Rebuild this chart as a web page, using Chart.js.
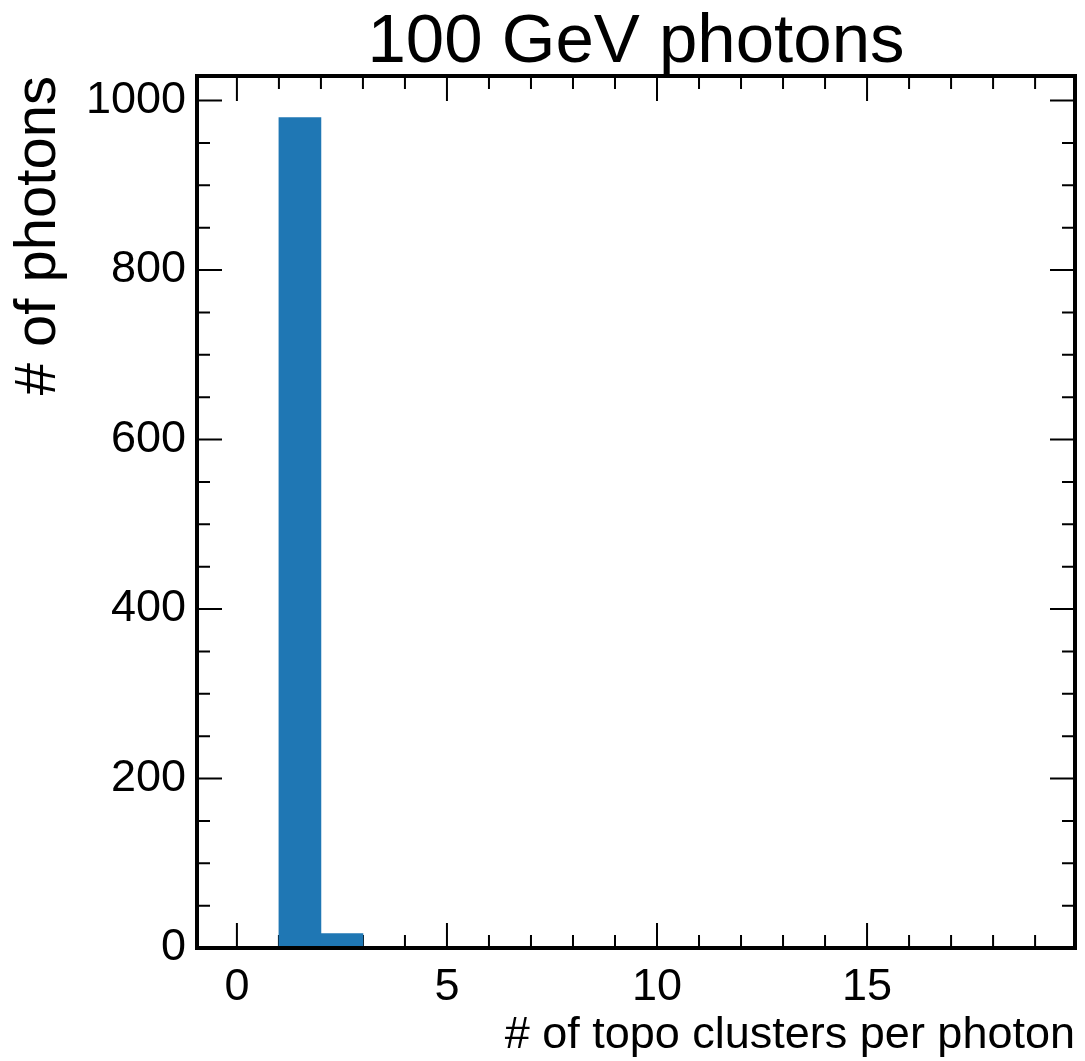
<!DOCTYPE html>
<html>
<head>
<meta charset="utf-8">
<title>100 GeV photons</title>
<script src="https://cdn.jsdelivr.net/npm/chart.js@4.4.1/dist/chart.umd.min.js"></script>
<style>
    html, body { margin: 0; padding: 0; background: #fff; }
    #wrap { width: 1085px; height: 1061px; }
</style>
</head>
<body>
<div id="wrap"><canvas id="histChart"></canvas></div>
<script>
// Histogram: topo clusters per photon, unit-width bins from 0 to 19
const binEdges = [0, 1, 2, 3, 4, 5, 6, 7, 8, 9, 10, 11, 12, 13, 14, 15, 16, 17, 18, 19];
const binCounts = [0, 980, 17, 0, 0, 0, 0, 0, 0, 0, 0, 0, 0, 0, 0, 0, 0, 0, 0];

const xMajorTicks = [0, 5, 10, 15];
const yMajorTicks = [0, 200, 400, 600, 800, 1000];
const xMinorStep = 1;
const yMinorStep = 50;

const xRange = [-0.95, 19.95];
const yRange = [0, 1029];

const chartTitle = '100 GeV photons';
const FONT = "'Liberation Sans', Arial, Helvetica, sans-serif";
const barColor = '#1f77b4';

// bar centres on a linear axis
const histData = binCounts.map((c, i) => ({
    x: (binEdges[i] + binEdges[i + 1]) / 2,
    y: c
}));

/**
 * mplhep-like frame: thick box with inward ticks on all four sides,
 * title centred over the plot area
 */
const frameTicks = {
    id: 'frameTicks',
    beforeDatasetsDraw(chart) {
        const { ctx, chartArea: a, scales: { x, y } } = chart;
        const majorLen = 25, minorLen = 13;
        ctx.save();
        ctx.strokeStyle = '#000';
        ctx.lineWidth = 2;
        ctx.beginPath();

        const xTick = (v, len) => {
            const px = x.getPixelForValue(v);
            ctx.moveTo(px, a.bottom); ctx.lineTo(px, a.bottom - len);
            ctx.moveTo(px, a.top); ctx.lineTo(px, a.top + len);
        };
        const yTick = (v, len) => {
            const py = y.getPixelForValue(v);
            ctx.moveTo(a.left, py); ctx.lineTo(a.left + len, py);
            ctx.moveTo(a.right, py); ctx.lineTo(a.right - len, py);
        };

        for (let v = Math.ceil(xRange[0]); v <= xRange[1]; v += xMinorStep) {
            xTick(v, xMajorTicks.includes(v) ? majorLen : minorLen);
        }
        for (let v = yRange[0]; v <= yRange[1]; v += yMinorStep) {
            yTick(v, yMajorTicks.includes(v) ? majorLen : minorLen);
        }
        ctx.stroke();
        ctx.restore();
    },
    afterDraw(chart) {
        const { ctx, chartArea: a } = chart;
        ctx.save();
        ctx.strokeStyle = '#000';
        ctx.lineWidth = 4;
        ctx.strokeRect(a.left, a.top, a.right - a.left, a.bottom - a.top);

        ctx.fillStyle = '#000';
        ctx.font = '69px ' + FONT;
        ctx.textAlign = 'center';
        ctx.textBaseline = 'alphabetic';
        ctx.fillText(chartTitle, (a.left + a.right) / 2, 62);
        ctx.restore();
    }
};

new Chart(document.getElementById('histChart'), {
    type: 'bar',
    data: {
        datasets: [{
            label: 'photons',
            data: histData,
            backgroundColor: barColor,
            borderWidth: 0,
            barPercentage: 1,
            categoryPercentage: 1
        }]
    },
    plugins: [frameTicks],
    options: {
        responsive: true,
        maintainAspectRatio: false,
        animation: false,
        layout: {
            padding: { left: 0, right: 10, top: 76, bottom: 0 }
        },
        plugins: {
            legend: { display: false },
            tooltip: { enabled: false },
            title: { display: false }
        },
        scales: {
            x: {
                type: 'linear',
                min: xRange[0],
                max: xRange[1],
                offset: false,
                grid: { display: false, drawTicks: false },
                border: { display: false },
                afterFit: (scale) => { scale.height = 113; },
                afterBuildTicks: (scale) => {
                    scale.ticks = xMajorTicks.map(v => ({ value: v }));
                },
                ticks: {
                    color: '#000',
                    padding: 13,
                    maxRotation: 0,
                    font: { family: FONT, size: 45 },
                    callback: (v) => String(v)
                },
                title: {
                    display: true,
                    text: '# of topo clusters per photon',
                    align: 'end',
                    color: '#000',
                    font: { family: FONT, size: 45, lineHeight: 1.2 },
                    padding: { top: 0, bottom: -2 }
                }
            },
            y: {
                min: yRange[0],
                max: yRange[1],
                grid: { display: false, drawTicks: false },
                border: { display: false },
                afterFit: (scale) => { scale.width = 197; },
                afterBuildTicks: (scale) => {
                    scale.ticks = yMajorTicks.map(v => ({ value: v }));
                },
                ticks: {
                    color: '#000',
                    padding: 11,
                    font: { family: FONT, size: 45 },
                    callback: (v) => String(v)
                },
                title: {
                    display: true,
                    text: '# of photons',
                    align: 'end',
                    color: '#000',
                    font: { family: FONT, size: 58, lineHeight: 1.2 },
                    padding: { top: 4, bottom: 0 }
                }
            }
        }
    }
});
</script>
</body>
</html>
